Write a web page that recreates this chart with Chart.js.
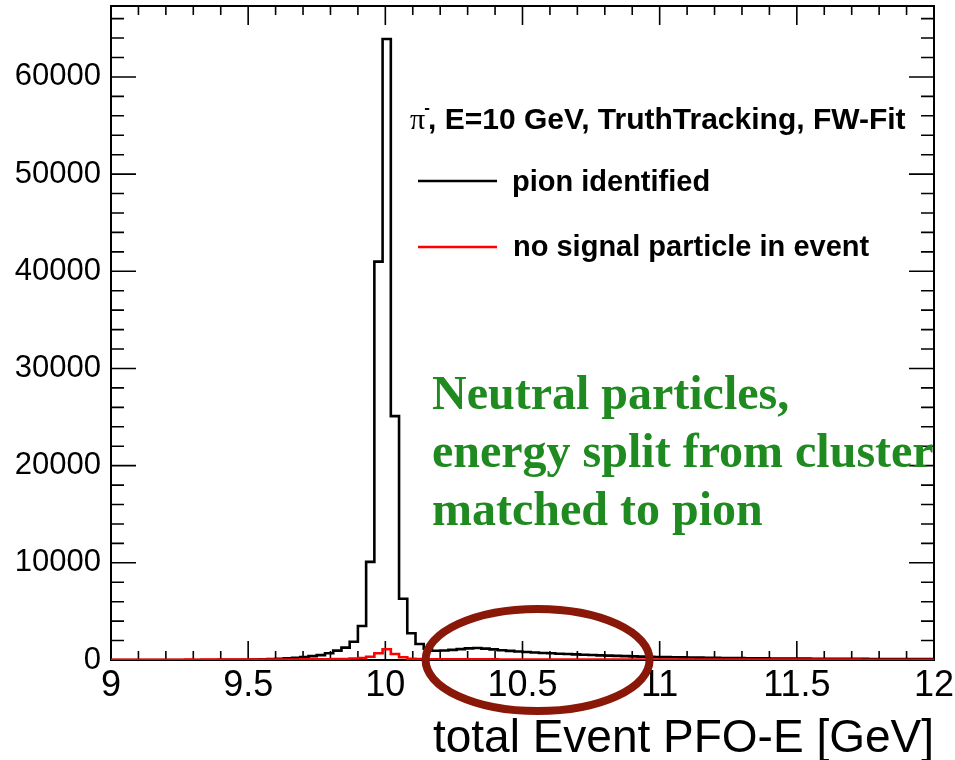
<!DOCTYPE html>
<html>
<head>
<meta charset="utf-8">
<script src="https://cdn.jsdelivr.net/npm/chart.js@4.4.1/dist/chart.umd.min.js"></script>
<style>
  html, body { margin:0; padding:0; background:#fff; }
  #wrap { width:955px; height:760px; }
</style>
</head>
<body>
<div id="wrap"><canvas id="histo" width="955" height="760"></canvas></div>
<script>
// histogram binning: 100 bins of 0.03 GeV from 9 to 12 GeV
const binStart = 9.0;
const binWidth = 0.03;
const xTicks = [9, 9.5, 10, 10.5, 11, 11.5, 12];
const yTicks = [0, 10000, 20000, 30000, 40000, 50000, 60000];

// entries per bin
const pionIdentified = [
  0, 0, 0, 0, 0, 0, 0, 0, 0, 0,
  0, 0, 5, 8, 12, 18, 28, 40, 60, 90,
  120, 170, 230, 300, 400, 500, 690, 960, 1270, 1880,
  3500, 10100, 41000, 63900, 25100, 6300, 2750, 1650, 1150, 950,
  980, 1040, 1120, 1200, 1230, 1170, 1090, 1010, 940, 880,
  820, 770, 720, 690, 650, 610, 580, 545, 510, 480,
  455, 425, 400, 375, 350, 330, 310, 295, 280, 265,
  250, 240, 228, 215, 205, 198, 190, 182, 175, 168,
  160, 155, 150, 144, 140, 135, 130, 126, 122, 118,
  115, 112, 108, 105, 102, 100, 98, 95, 93, 90
];
const noSignal = [
  20, 20, 25, 20, 25, 30, 25, 30, 30, 35,
  30, 35, 35, 40, 35, 40, 45, 40, 45, 50,
  50, 55, 55, 60, 60, 70, 75, 90, 110, 150,
  200, 340, 690, 1100, 620, 280, 130, 90, 75, 70,
  70, 68, 66, 65, 64, 62, 60, 58, 57, 56,
  55, 54, 53, 52, 51, 50, 50, 49, 48, 47,
  47, 46, 45, 45, 44, 44, 43, 43, 42, 42,
  41, 41, 40, 40, 40, 39, 39, 38, 38, 38,
  37, 37, 36, 36, 36, 35, 35, 35, 34, 34,
  34, 33, 33, 33, 32, 32, 32, 31, 31, 30
];

// one point per lower bin edge plus the closing upper edge
function toSteps(counts){
  const pts = counts.map((c, i) => ({x: binStart + i*binWidth, y: c}));
  pts.push({x: binStart + counts.length*binWidth, y: counts[counts.length-1]});
  return pts;
}

// ROOT style frame with ticks on the inside of all four sides
const frameTicks = {
  id: 'frameTicks',
  beforeDatasetsDraw(chart){
    const {ctx, chartArea: a, scales: {x, y}} = chart;
    ctx.save();
    ctx.strokeStyle = '#000';
    ctx.lineWidth = 1.6;
    ctx.beginPath();
    for (let i = 0; i <= 30; i++){
      const px = x.getPixelForValue(9 + i*0.1);
      const len = i % 5 === 0 ? 19 : 9;
      ctx.moveTo(px, a.bottom); ctx.lineTo(px, a.bottom - len);
      ctx.moveTo(px, a.top); ctx.lineTo(px, a.top + len);
    }
    for (let v = 0; v <= 66000; v += 2000){
      const py = y.getPixelForValue(v);
      const len = v % 10000 === 0 ? 25 : 13;
      ctx.moveTo(a.left, py); ctx.lineTo(a.left + len, py);
      ctx.moveTo(a.right, py); ctx.lineTo(a.right - len, py);
    }
    ctx.stroke();
    ctx.lineWidth = 2;
    ctx.strokeRect(a.left, a.top, a.right - a.left, a.bottom - a.top);
    ctx.restore();
  }
};

// legend box, annotation text and the ellipse
const notes = {
  id: 'notes',
  afterDraw(chart){
    const {ctx, scales: {x, y}} = chart;
    ctx.save();
    ctx.fillStyle = '#000';
    ctx.textBaseline = 'alphabetic';
    ctx.font = '30px "Liberation Serif"';
    ctx.fillText('π', 410, 129);
    const pw = ctx.measureText('π').width;
    ctx.font = 'bold 17px "Liberation Sans"';
    ctx.fillText('-', 410 + pw - 1, 113);
    ctx.font = 'bold 30px "Liberation Sans"';
    ctx.fillText(', E=10 GeV, TruthTracking, FW-Fit', 428, 129);

    ctx.font = 'bold 29px "Liberation Sans"';
    ctx.fillText('pion identified', 512, 191);
    ctx.fillText('no signal particle in event', 513, 256);
    ctx.lineWidth = 2.5;
    ctx.strokeStyle = '#000';
    ctx.beginPath(); ctx.moveTo(418, 181); ctx.lineTo(497, 181); ctx.stroke();
    ctx.strokeStyle = '#ff0000';
    ctx.beginPath(); ctx.moveTo(418, 247); ctx.lineTo(497, 247); ctx.stroke();

    ctx.fillStyle = '#1f8a1f';
    ctx.font = 'bold 48px "Liberation Serif"';
    ctx.fillText('Neutral particles,', 432, 409);
    ctx.fillText('energy split from cluster', 432, 467);
    ctx.fillText('matched to pion', 432, 525);

    ctx.strokeStyle = '#8a1808';
    ctx.lineWidth = 8;
    ctx.beginPath();
    ctx.ellipse(x.getPixelForValue(10.555), y.getPixelForValue(0), 112, 51, 0, 0, Math.PI*2);
    ctx.stroke();
    ctx.restore();
  }
};

const fontFamily = '"Liberation Sans", Arial, sans-serif';

new Chart(document.getElementById('histo'), {
  type: 'line',
  data: {
    datasets: [
      {label: 'no signal particle in event', data: toSteps(noSignal), borderColor: '#ff0000',
       borderWidth: 2.6, stepped: true, pointRadius: 0, fill: false},
      {label: 'pion identified', data: toSteps(pionIdentified), borderColor: '#000000',
       borderWidth: 2.6, stepped: true, pointRadius: 0, fill: false}
    ]
  },
  options: {
    responsive: false,
    animation: false,
    devicePixelRatio: 1,
    layout: {padding: {left: 0, right: 21, top: 6, bottom: 0}},
    plugins: {legend: {display: false}, tooltip: {enabled: false}},
    scales: {
      x: {
        type: 'linear', min: 9, max: 12,
        afterBuildTicks: s => { s.ticks = xTicks.map(v => ({value: v})); },
        afterFit: s => { s.height = 100; s.paddingLeft = 0; s.paddingRight = 0; },
        grid: {display: false, drawTicks: false},
        border: {display: false},
        ticks: {font: {family: fontFamily, size: 36}, color: '#000', padding: 4, maxRotation: 0,
                autoSkip: false, callback: v => String(v)},
        title: {display: true, text: 'total Event PFO-E [GeV]', align: 'end', color: '#000',
                font: {family: fontFamily, size: 46, lineHeight: 0.85},
                padding: {top: 0, bottom: 1}}
      },
      y: {
        min: 0, max: 67300,
        afterBuildTicks: s => { s.ticks = yTicks.map(v => ({value: v})); },
        afterFit: s => { s.width = 111; s.paddingTop = 0; s.paddingBottom = 0; },
        grid: {display: false, drawTicks: false},
        border: {display: false},
        ticks: {font: {family: fontFamily, size: 31}, color: '#000', padding: 10, autoSkip: false,
                callback: v => String(v)}
      }
    }
  },
  plugins: [frameTicks, notes]
});
</script>
</body>
</html>
